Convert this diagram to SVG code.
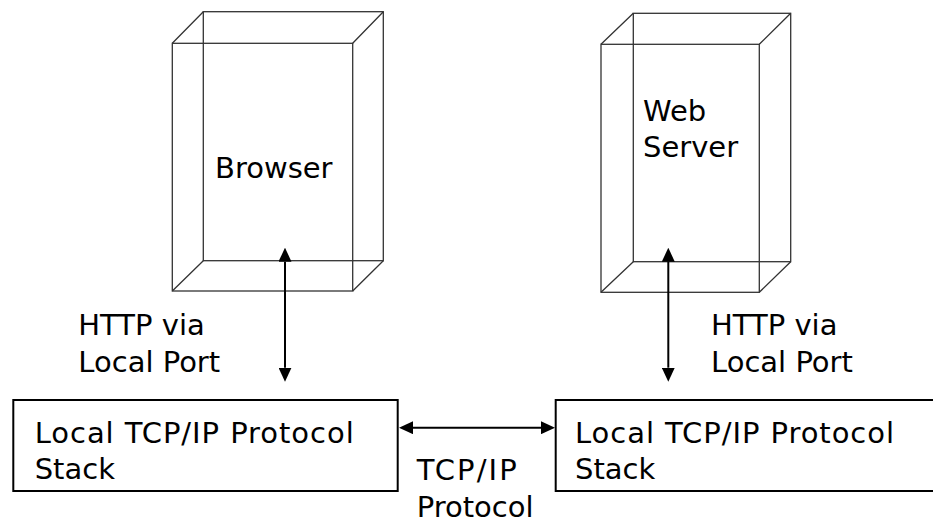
<svg xmlns="http://www.w3.org/2000/svg" width="933" height="521" viewBox="0 0 933 521">
  <style>
    .label { font-family: "DejaVu Sans", Verdana, sans-serif; font-size: 29px; fill: #000; }
    .cube { fill: none; stroke: #333; stroke-width: 1.3; }
    .stack { fill: #fff; stroke: #000; stroke-width: 2; }
    .link { fill: none; stroke: #000; stroke-width: 2; marker-start: url(#head); marker-end: url(#head); }
  </style>
  <defs>
    <marker id="head" viewBox="0 0 14 13" markerWidth="14" markerHeight="13" refX="0" refY="6.5" markerUnits="userSpaceOnUse" orient="auto-start-reverse">
      <path d="M0,0 L14,6.5 L0,13 z" fill="#000"/>
    </marker>
  </defs>

  <rect width="933" height="521" fill="#fff"/>

  <!-- Browser: wireframe box -->
  <g id="browser">
    <rect class="cube" x="203.3" y="11.7" width="180" height="249"/>
    <rect class="cube" x="172.3" y="43.3" width="180.4" height="247.7"/>
    <path class="cube" d="M172.3,43.3 L203.3,11.7 M352.7,43.3 L383.3,11.7 M172.3,291 L203.3,260.7 M352.7,291 L383.3,260.7"/>
    <text class="label" x="215" y="178.3">Browser</text>
  </g>

  <!-- Web server: wireframe box -->
  <g id="web-server">
    <rect class="cube" x="633.3" y="13.3" width="157.4" height="248.4"/>
    <rect class="cube" x="601" y="44.3" width="158.3" height="248"/>
    <path class="cube" d="M601,44.3 L633.3,13.3 M759.3,44.3 L790.7,13.3 M601,292.3 L633.3,261.7 M759.3,292.3 L790.7,261.7"/>
    <text class="label" x="643" y="120.7">Web</text>
    <text class="label" x="643" y="156.7">Server</text>
  </g>

  <!-- Protocol stack, client side -->
  <g id="client-stack">
    <rect class="stack" x="13.3" y="400" width="384.4" height="91"/>
    <text class="label" x="34.7" y="443.3" textLength="319" lengthAdjust="spacing">Local TCP/IP Protocol</text>
    <text class="label" x="34.7" y="479">Stack</text>
  </g>

  <!-- Protocol stack, server side -->
  <g id="server-stack">
    <rect class="stack" x="555.7" y="400" width="390" height="91"/>
    <text class="label" x="575" y="443.3" textLength="319" lengthAdjust="spacing">Local TCP/IP Protocol</text>
    <text class="label" x="575" y="479">Stack</text>
  </g>

  <!-- Connectors -->
  <g id="connectors">
    <path class="link" d="M285,261.7 L285,367.7"/>
    <path class="link" d="M668.3,261.7 L668.3,367.7"/>
    <path class="link" d="M413,427.7 L541,427.7"/>
  </g>

  <!-- Connector labels -->
  <g id="labels">
    <text class="label" x="78.3" y="335">HTTP via</text>
    <text class="label" x="78.3" y="371.7">Local Port</text>
    <text class="label" x="711" y="335">HTTP via</text>
    <text class="label" x="711" y="371.7">Local Port</text>
    <text class="label" x="416.7" y="480" textLength="100" lengthAdjust="spacing">TCP/IP</text>
    <text class="label" x="416.7" y="516.7">Protocol</text>
  </g>
</svg>
